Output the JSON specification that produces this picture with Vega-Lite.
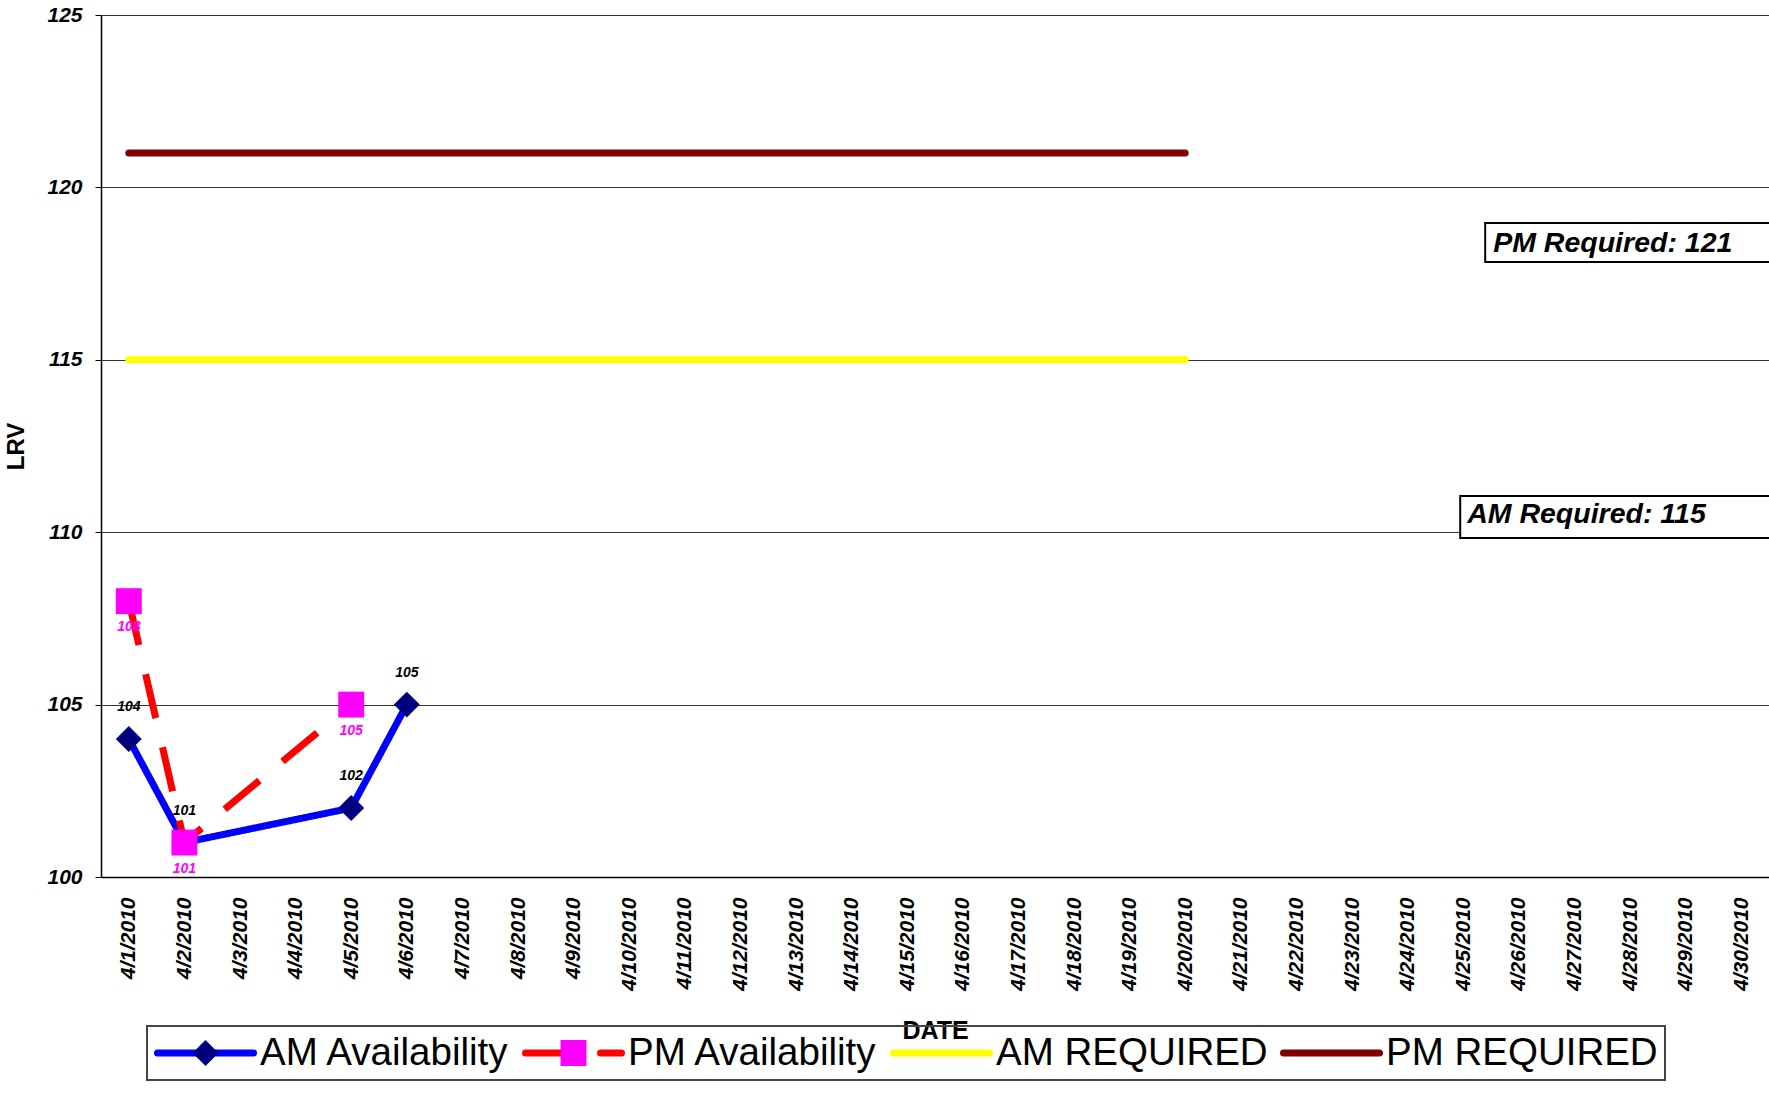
{
  "$schema": "https://vega.github.io/schema/vega-lite/v6.json",
  "autosize": {"type": "none"},
  "padding": {"left": 101, "top": 15, "right": 0, "bottom": 219},
  "width": 1668,
  "height": 862,
  "background": "white",
  "config": {
    "font": "Liberation Sans",
    "view": {"stroke": null},
    "axis": {"labelFont": "Liberation Sans", "titleFont": "Liberation Sans"},
    "legend": {"labelFont": "Liberation Sans"}
  },
  "datasets": {
    "avail": [
      {"date": "4/1/2010", "series": "AM Availability", "value": 104},
      {"date": "4/2/2010", "series": "AM Availability", "value": 101},
      {"date": "4/5/2010", "series": "AM Availability", "value": 102},
      {"date": "4/6/2010", "series": "AM Availability", "value": 105},
      {"date": "4/1/2010", "series": "PM Availability", "value": 108},
      {"date": "4/2/2010", "series": "PM Availability", "value": 101},
      {"date": "4/5/2010", "series": "PM Availability", "value": 105}
    ],
    "req": [
      {"date": "4/1/2010", "series": "AM REQUIRED", "value": 115},
      {"date": "4/2/2010", "series": "AM REQUIRED", "value": 115},
      {"date": "4/3/2010", "series": "AM REQUIRED", "value": 115},
      {"date": "4/4/2010", "series": "AM REQUIRED", "value": 115},
      {"date": "4/5/2010", "series": "AM REQUIRED", "value": 115},
      {"date": "4/6/2010", "series": "AM REQUIRED", "value": 115},
      {"date": "4/7/2010", "series": "AM REQUIRED", "value": 115},
      {"date": "4/8/2010", "series": "AM REQUIRED", "value": 115},
      {"date": "4/9/2010", "series": "AM REQUIRED", "value": 115},
      {"date": "4/10/2010", "series": "AM REQUIRED", "value": 115},
      {"date": "4/11/2010", "series": "AM REQUIRED", "value": 115},
      {"date": "4/12/2010", "series": "AM REQUIRED", "value": 115},
      {"date": "4/13/2010", "series": "AM REQUIRED", "value": 115},
      {"date": "4/14/2010", "series": "AM REQUIRED", "value": 115},
      {"date": "4/15/2010", "series": "AM REQUIRED", "value": 115},
      {"date": "4/16/2010", "series": "AM REQUIRED", "value": 115},
      {"date": "4/17/2010", "series": "AM REQUIRED", "value": 115},
      {"date": "4/18/2010", "series": "AM REQUIRED", "value": 115},
      {"date": "4/19/2010", "series": "AM REQUIRED", "value": 115},
      {"date": "4/20/2010", "series": "AM REQUIRED", "value": 115},
      {"date": "4/1/2010", "series": "PM REQUIRED", "value": 121},
      {"date": "4/2/2010", "series": "PM REQUIRED", "value": 121},
      {"date": "4/3/2010", "series": "PM REQUIRED", "value": 121},
      {"date": "4/4/2010", "series": "PM REQUIRED", "value": 121},
      {"date": "4/5/2010", "series": "PM REQUIRED", "value": 121},
      {"date": "4/6/2010", "series": "PM REQUIRED", "value": 121},
      {"date": "4/7/2010", "series": "PM REQUIRED", "value": 121},
      {"date": "4/8/2010", "series": "PM REQUIRED", "value": 121},
      {"date": "4/9/2010", "series": "PM REQUIRED", "value": 121},
      {"date": "4/10/2010", "series": "PM REQUIRED", "value": 121},
      {"date": "4/11/2010", "series": "PM REQUIRED", "value": 121},
      {"date": "4/12/2010", "series": "PM REQUIRED", "value": 121},
      {"date": "4/13/2010", "series": "PM REQUIRED", "value": 121},
      {"date": "4/14/2010", "series": "PM REQUIRED", "value": 121},
      {"date": "4/15/2010", "series": "PM REQUIRED", "value": 121},
      {"date": "4/16/2010", "series": "PM REQUIRED", "value": 121},
      {"date": "4/17/2010", "series": "PM REQUIRED", "value": 121},
      {"date": "4/18/2010", "series": "PM REQUIRED", "value": 121},
      {"date": "4/19/2010", "series": "PM REQUIRED", "value": 121},
      {"date": "4/20/2010", "series": "PM REQUIRED", "value": 121}
    ]
  },
  "layer": [
    {
      "data": {"name": "req"},
      "mark": {"type": "line", "strokeWidth": 7, "strokeCap": "round"},
      "encoding": {
        "x": {
          "field": "date", "type": "ordinal", "sort": null,
          "scale": {"type": "point", "padding": 0.5, "domain": ["4/1/2010","4/2/2010","4/3/2010","4/4/2010","4/5/2010","4/6/2010","4/7/2010","4/8/2010","4/9/2010","4/10/2010","4/11/2010","4/12/2010","4/13/2010","4/14/2010","4/15/2010","4/16/2010","4/17/2010","4/18/2010","4/19/2010","4/20/2010","4/21/2010","4/22/2010","4/23/2010","4/24/2010","4/25/2010","4/26/2010","4/27/2010","4/28/2010","4/29/2010","4/30/2010"]},
          "axis": {
            "title": "DATE", "titleFontSize": 25, "titleFontWeight": "bold", "titleFontStyle": "normal", "titleColor": "black",
            "titleY": 161, "titleBaseline": "alphabetic",
            "labelAngle": 270, "labelFontSize": 21, "labelFontWeight": "bold", "labelFontStyle": "italic", "labelColor": "black",
            "labelPadding": 20, "ticks": false, "domainColor": "black", "domainWidth": 1.5, "grid": false, "labelOverlap": false
          }
        },
        "y": {
          "field": "value", "type": "quantitative",
          "scale": {"domain": [100, 125], "nice": false, "zero": false},
          "axis": {
            "title": "LRV", "titleFontSize": 24, "titleFontWeight": "bold", "titleColor": "black",
            "titleX": -85, "titleY": 431, "titleBaseline": "middle",
            "values": [100, 105, 110, 115, 120, 125], "format": "d",
            "labelFontSize": 21, "labelFontWeight": "bold", "labelFontStyle": "italic", "labelColor": "black", "labelPadding": 13,
            "tickSize": 6, "tickColor": "black", "domainColor": "black", "domainWidth": 1.5,
            "grid": true, "gridColor": "#333333", "gridWidth": 1.2
          }
        },
        "color": {
          "field": "series", "type": "nominal",
          "scale": {"domain": ["AM Availability", "PM Availability", "AM REQUIRED", "PM REQUIRED"], "range": ["#0000FF", "#FF0000", "#FFFF00", "#800000"]},
          "legend": {
            "orient": "none", "legendX": 46, "legendY": 1011, "direction": "horizontal", "columns": 4, "title": null,
            "labelFontSize": 38.5, "labelLimit": 500, "labelOffset": 3, "labelColor": "black", "columnPadding": 12, "padding": 7, "clipHeight": 40,
            "symbolSize": 9216, "symbolStrokeWidth": 7, "symbolType": "stroke", "strokeColor": "#444444",
            "encode": {"symbols": {"update": {"strokeCap": {"value": "round"}}}, "legend": {"update": {"strokeWidth": {"value": 2}}}}
          }
        },
        "strokeDash": {
          "field": "series", "type": "nominal",
          "scale": {"domain": ["AM Availability", "PM Availability", "AM REQUIRED", "PM REQUIRED"], "range": [[1, 0], [45, 30], [1, 0], [1, 0]]},
          "legend": {
            "orient": "none", "legendX": 46, "legendY": 1011, "direction": "horizontal", "columns": 4, "title": null,
            "labelFontSize": 38.5, "labelLimit": 500, "labelOffset": 3, "labelColor": "black", "columnPadding": 12, "padding": 7, "clipHeight": 40,
            "symbolSize": 9216, "symbolStrokeWidth": 7, "symbolType": "stroke", "strokeColor": "#444444",
            "encode": {"symbols": {"update": {"strokeCap": {"value": "round"}}}, "legend": {"update": {"strokeWidth": {"value": 2}}}}
          }
        }
      }
    },
    {
      "data": {"name": "avail"},
      "mark": {"type": "line", "strokeWidth": 7, "strokeCap": "butt"},
      "encoding": {
        "x": {"field": "date", "type": "ordinal", "sort": null},
        "y": {"field": "value", "type": "quantitative"},
        "color": {"field": "series", "type": "nominal"},
        "strokeDash": {"field": "series", "type": "nominal"}
      }
    },
    {
      "data": {"name": "avail"},
      "mark": {"type": "point", "filled": true, "size": 9216, "opacity": 1, "strokeWidth": 0},
      "encoding": {
        "x": {"field": "date", "type": "ordinal", "sort": null},
        "y": {"field": "value", "type": "quantitative"},
        "fill": {
          "field": "series", "type": "nominal",
          "scale": {"range": ["#000080", "#FF00FF"]},
          "legend": {
            "orient": "none", "legendX": 46, "legendY": 1011, "direction": "horizontal", "columns": 4, "title": null,
            "labelFontSize": 38.5, "labelLimit": 500, "labelOffset": 3, "labelOpacity": 0, "columnPadding": 12, "padding": 7, "clipHeight": 40,
            "symbolSize": 9216, "symbolStrokeWidth": 7, "symbolStrokeColor": "transparent", "symbolOpacity": 1
          }
        },
        "shape": {
          "field": "series", "type": "nominal",
          "scale": {"range": ["M0,-0.27L0.27,0L0,0.27L-0.27,0Z", "M-0.27,-0.27H0.27V0.27H-0.27Z"]},
          "legend": {
            "orient": "none", "legendX": 46, "legendY": 1011, "direction": "horizontal", "columns": 4, "title": null,
            "labelFontSize": 38.5, "labelLimit": 500, "labelOffset": 3, "labelOpacity": 0, "columnPadding": 12, "padding": 7, "clipHeight": 40,
            "symbolSize": 9216, "symbolStrokeWidth": 7, "symbolStrokeColor": "transparent", "symbolOpacity": 1
          }
        }
      }
    },
    {
      "data": {"name": "avail"},
      "transform": [{"filter": "datum.series === 'AM Availability'"}],
      "mark": {"type": "text", "dy": -32, "fontSize": 14, "fontWeight": "bold", "fontStyle": "italic", "color": "black"},
      "encoding": {
        "x": {"field": "date", "type": "ordinal", "sort": null},
        "y": {"field": "value", "type": "quantitative"},
        "text": {"field": "value", "type": "quantitative"}
      }
    },
    {
      "data": {"name": "avail"},
      "transform": [{"filter": "datum.series === 'PM Availability'"}],
      "mark": {"type": "text", "dy": 26, "fontSize": 14, "fontWeight": "bold", "fontStyle": "italic", "color": "#FF00FF"},
      "encoding": {
        "x": {"field": "date", "type": "ordinal", "sort": null},
        "y": {"field": "value", "type": "quantitative"},
        "text": {"field": "value", "type": "quantitative"}
      }
    },
    {
      "data": {"values": [{"label": "PM Required: 121"}]},
      "mark": {"type": "rect", "fill": "white", "stroke": "black", "strokeWidth": 2, "xOffset": 22, "x2Offset": 60},
      "encoding": {
        "x": {"datum": "4/25/2010", "type": "ordinal"},
        "x2": {"datum": "4/30/2010"},
        "y": {"datum": 118.97, "type": "quantitative"},
        "y2": {"datum": 117.84}
      }
    },
    {
      "data": {"values": [{"label": "PM Required: 121"}]},
      "mark": {"type": "text", "align": "left", "baseline": "alphabetic", "dx": 30, "fontSize": 28.5, "fontWeight": "bold", "fontStyle": "italic", "color": "black"},
      "encoding": {
        "x": {"datum": "4/25/2010", "type": "ordinal"},
        "y": {"datum": 118.13, "type": "quantitative"},
        "text": {"field": "label", "type": "nominal"}
      }
    },
    {
      "data": {"values": [{"label": "AM Required: 115"}]},
      "mark": {"type": "rect", "fill": "white", "stroke": "black", "strokeWidth": 2, "xOffset": -3, "x2Offset": 60},
      "encoding": {
        "x": {"datum": "4/25/2010", "type": "ordinal"},
        "x2": {"datum": "4/30/2010"},
        "y": {"datum": 111.05, "type": "quantitative"},
        "y2": {"datum": 109.83}
      }
    },
    {
      "data": {"values": [{"label": "AM Required: 115"}]},
      "mark": {"type": "text", "align": "left", "baseline": "alphabetic", "dx": 4, "fontSize": 28.5, "fontWeight": "bold", "fontStyle": "italic", "color": "black"},
      "encoding": {
        "x": {"datum": "4/25/2010", "type": "ordinal"},
        "y": {"datum": 110.27, "type": "quantitative"},
        "text": {"field": "label", "type": "nominal"}
      }
    }
  ]
}
